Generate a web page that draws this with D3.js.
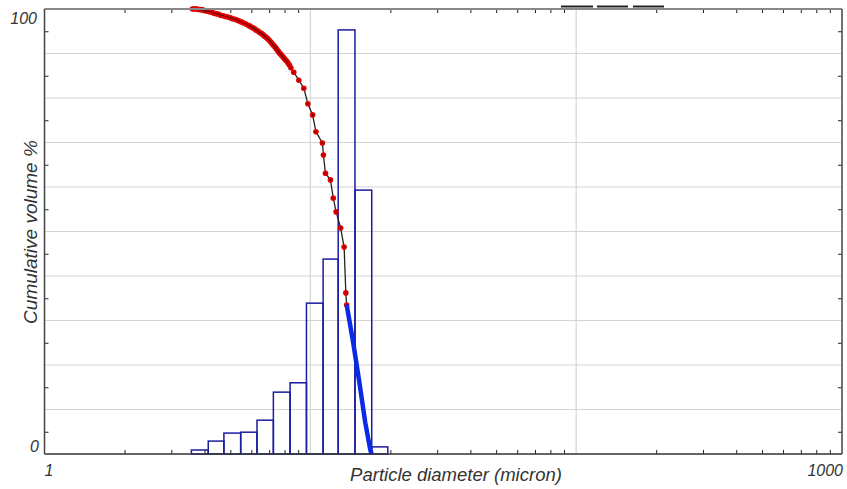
<!DOCTYPE html>
<html>
<head>
<meta charset="utf-8">
<script src="https://cdn.jsdelivr.net/npm/d3@7"></script>
<style>
  body { margin: 0; background: #fff; }
  text { font-family: "Liberation Sans", Arial, sans-serif; font-style: italic; fill: #333; }
  .tick line { stroke: #222; }
  .domain { display: none; }
</style>
</head>
<body>
<script>
//histogram bins (micron) and heights (% of axis)
var binEdges = [3.57, 4.13, 4.73, 5.47, 6.30, 7.26, 8.39, 9.67, 11.17, 12.73, 14.72, 17.02, 19.56];
var binHeights = [0.9, 2.9, 4.7, 4.9, 7.6, 13.9, 16.0, 33.9, 43.8, 95.3, 59.3, 1.6];

//measured cumulative curve (red dots)
var curveDiam = [3.60, 3.65, 3.70, 3.75, 3.80, 3.86, 3.92, 3.98, 4.05, 4.12, 4.18, 4.25, 4.32, 4.39, 4.46, 4.53,
    4.6, 4.7, 4.8, 4.9, 5.01, 5.1, 5.2, 5.3, 5.4, 5.5, 5.6, 5.7, 5.81, 5.9, 5.98, 6.07,
    6.15, 6.24, 6.33, 6.42, 6.51, 6.58, 6.65, 6.72, 6.8, 6.88, 6.95, 7.02, 7.10, 7.16, 7.22, 7.29, 7.35, 7.42,
    7.48, 7.55, 7.61, 7.68, 7.75, 7.82, 7.9, 7.97, 8.05, 8.14, 8.23, 8.34, 8.45, 8.66, 9.05, 9.45,
    9.79, 10.2, 10.5, 11.1, 11.2, 11.4, 11.9, 12.2, 12.5, 13.0, 13.4, 13.6, 13.7];
var curveCum = [100, 100, 100, 100, 99.9, 99.9, 99.8, 99.7, 99.6, 99.5, 99.4, 99.3, 99.1, 99.0, 98.9, 98.8,
    98.6, 98.5, 98.3, 98.2, 98.0, 97.8, 97.7, 97.5, 97.3, 97.1, 96.9, 96.7, 96.4, 96.2, 96.0, 95.8,
    95.6, 95.3, 95.1, 94.8, 94.6, 94.4, 94.2, 93.9, 93.7, 93.4, 93.2, 92.9, 92.6, 92.3, 92.0, 91.8, 91.5, 91.2,
    90.9, 90.6, 90.3, 90.0, 89.8, 89.5, 89.2, 88.9, 88.6, 88.3, 87.9, 87.4, 86.8, 85.8, 84.0, 82.2,
    78.7, 76.2, 72.4, 69.9, 67.2, 63.1, 61.6, 57.5, 54.4, 50.8, 46.5, 36.2, 33.5];

//fitted tail (blue)
var tailDiam = [13.7, 14.5, 15.3, 16.1, 16.8, 17.0];
var tailCum = [33.5, 25.0, 16.0, 7.0, 1.0, 0];

//axis ticks
var xGrid = [10, 100];
var yGrid = [10, 20, 30, 40, 50, 60, 70, 80, 90];
var yTicks = [5, 15, 25, 35, 45, 55, 65, 75, 85, 95];

(function () {
    var width = 847, height = 489;
    var svg = d3.select("body").append("svg")
        .attr("width", width)
        .attr("height", height);

    var x = d3.scaleLog().domain([1, 1000]).range([44.5, 842]);
    var y = d3.scaleLinear().domain([0, 100]).range([454, 9]);

    //minor log ticks 2..9 in each decade
    var xTicks = [];
    [1, 10, 100].forEach(function (dec) {
        for (var k = 2; k <= 9; k++) xTicks.push(dec * k);
    });

    //grid
    svg.selectAll(".hgrid").data(yGrid).enter().append("line")
        .attr("x1", x(1)).attr("x2", x(1000))
        .attr("y1", function (d) { return y(d); })
        .attr("y2", function (d) { return y(d); })
        .attr("stroke", "#d4d4d4").attr("stroke-width", 1.2);
    svg.selectAll(".vgrid").data(xGrid).enter().append("line")
        .attr("x1", function (d) { return x(d); })
        .attr("x2", function (d) { return x(d); })
        .attr("y1", y(0)).attr("y2", y(100))
        .attr("stroke", "#d4d4d4").attr("stroke-width", 1.2);

    //histogram bars
    svg.selectAll(".bar").data(binHeights).enter().append("rect")
        .attr("x", function (d, i) { return x(binEdges[i]); })
        .attr("width", function (d, i) { return x(binEdges[i + 1]) - x(binEdges[i]); })
        .attr("y", function (d) { return y(d); })
        .attr("height", function (d) { return y(0) - y(d); })
        .attr("fill", "none")
        .attr("stroke", "#1c1ca0")
        .attr("stroke-width", 1.5);

    //cumulative curve
    var pts = curveDiam.map(function (d, i) { return [d, curveCum[i]]; });
    var line = d3.line()
        .x(function (d) { return x(d[0]); })
        .y(function (d) { return y(d[1]); });
    svg.append("path").datum(pts)
        .attr("d", line)
        .attr("fill", "none")
        .attr("stroke", "#222")
        .attr("stroke-width", 1.3);
    svg.selectAll(".dot").data(pts).enter().append("circle")
        .attr("cx", function (d) { return x(d[0]); })
        .attr("cy", function (d) { return y(d[1]); })
        .attr("r", 2.8)
        .attr("fill", "#e00000");
    svg.selectAll(".dotc").data(pts).enter().append("circle")
        .attr("cx", function (d) { return x(d[0]); })
        .attr("cy", function (d) { return y(d[1]); })
        .attr("r", 0.8)
        .attr("fill", "#400");

    var tail = tailDiam.map(function (d, i) { return [d, tailCum[i]]; });
    svg.append("path").datum(tail)
        .attr("d", line)
        .attr("fill", "none")
        .attr("stroke", "#0a2ae8")
        .attr("stroke-width", 4.5);

    //inner ticks on all sides
    svg.append("g").attr("transform", "translate(0," + y(0) + ")")
        .call(d3.axisBottom(x).tickValues(xTicks).tickSize(-4).tickFormat(""));
    svg.append("g").attr("transform", "translate(0," + y(100) + ")")
        .call(d3.axisTop(x).tickValues(xTicks).tickSize(-4).tickFormat(""));
    svg.append("g").attr("transform", "translate(" + x(1) + ",0)")
        .call(d3.axisLeft(y).tickValues(yTicks).tickSize(-4).tickFormat(""));
    svg.append("g").attr("transform", "translate(" + x(1000) + ",0)")
        .call(d3.axisRight(y).tickValues(yTicks).tickSize(-4).tickFormat(""));

    //frame
    svg.append("line").attr("x1", x(1)).attr("x2", x(1000)).attr("y1", y(100)).attr("y2", y(100))
        .attr("stroke", "#888").attr("stroke-width", 2);
    svg.append("line").attr("x1", x(1)).attr("x2", x(1000)).attr("y1", y(0)).attr("y2", y(0))
        .attr("stroke", "#333").attr("stroke-width", 1.5);
    svg.append("line").attr("x1", x(1)).attr("x2", x(1)).attr("y1", y(0)).attr("y2", y(100))
        .attr("stroke", "#444").attr("stroke-width", 1.5);
    svg.append("line").attr("x1", x(1000)).attr("x2", x(1000)).attr("y1", y(0)).attr("y2", y(100))
        .attr("stroke", "#444").attr("stroke-width", 1.5);

    //dark dashes above frame
    [[561, 593], [597, 628], [633, 664]].forEach(function (s) {
        svg.append("line").attr("x1", s[0]).attr("x2", s[1]).attr("y1", 6.5).attr("y2", 6.5)
            .attr("stroke", "#222").attr("stroke-width", 2);
    });

    //labels
    svg.append("text").attr("x", 37).attr("y", 24).attr("text-anchor", "end")
        .style("font-size", "16px").text("100");
    svg.append("text").attr("x", 39).attr("y", 452).attr("text-anchor", "end")
        .style("font-size", "16px").text("0");
    svg.append("text").attr("x", 49).attr("y", 476).attr("text-anchor", "middle")
        .style("font-size", "16px").text("1");
    svg.append("text").attr("x", 843).attr("y", 476).attr("text-anchor", "end")
        .style("font-size", "16px").text("1000");
    svg.append("text").attr("x", 456).attr("y", 481).attr("text-anchor", "middle")
        .style("font-size", "18.5px").text("Particle diameter (micron)");
    svg.append("text").attr("transform", "translate(37,232) rotate(-90)").attr("text-anchor", "middle")
        .style("font-size", "19px").text("Cumulative volume %");
})();
</script>
</body>
</html>
